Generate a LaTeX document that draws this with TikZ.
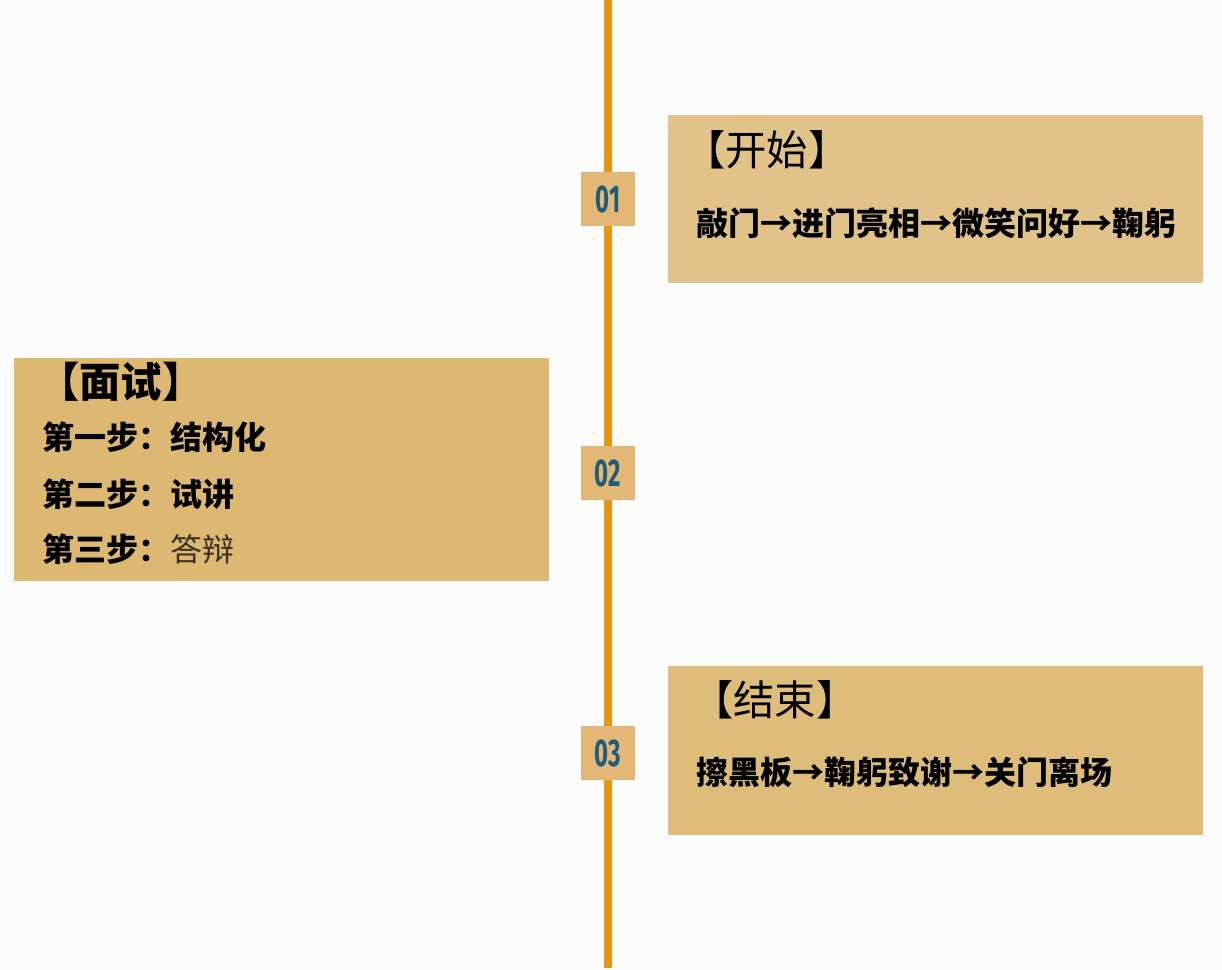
\documentclass[tikz,border=0pt]{standalone}
\usepackage{fontspec}
\newfontfamily\cjk{Noto Sans CJK SC}
\newfontfamily\numfont{Fira Sans}
\definecolor{bgc}{HTML}{FDFCFD}
\definecolor{linec}{HTML}{E8960F}
\definecolor{tagc}{HTML}{E3B877}
\definecolor{numc}{HTML}{1F5C7A}
\definecolor{boxa}{HTML}{E1C38A}
\definecolor{boxb}{HTML}{DCB873}
\definecolor{boxc}{HTML}{DEBC7A}
\definecolor{softc}{HTML}{3A3222}
\tikzset{
  tagbox/.style={fill=tagc, minimum width=40.5pt, minimum height=40.5pt, inner sep=0, font=\numfont\bfseries\fontsize{29}{29}\selectfont, text=numc},
  title/.style={anchor=west, inner sep=0, font=\cjk\fontsize{31}{34}\selectfont},
  body/.style={anchor=west, inner sep=0, font=\cjk\bfseries\fontsize{24}{27}\selectfont},
}
\begin{document}
\begin{tikzpicture}[x=0.75pt, y=-0.75pt]
\useasboundingbox (0,0) rectangle (1222,970);
\fill[bgc] (0,0) rectangle (1222,970);
% timeline
\coordinate (top) at (608,0);
\coordinate (bot) at (608,968);
\draw[linec, line width=5.4pt] (top) -- (bot);
% panels
\fill[boxa] (668,115) rectangle (1203,283);
\fill[boxb] (14,358) rectangle (549,581);
\fill[boxc] (668,666) rectangle (1203,835);
% tags
\node[tagbox] (t1) at (608,199) {\scalebox{0.62}[1]{01}};
\node[tagbox] (t2) at (608,473) {\scalebox{0.62}[1]{02}};
\node[tagbox] (t3) at (608,753) {\scalebox{0.62}[1]{03}};
% panel 1
\node[title] (h1) at (684,150) {【开始】};
\node[body] (l1) at (696,223) {敲门→进门亮相→微笑问好→鞠躬};
% panel 2
\node[title, font=\cjk\bfseries\fontsize{31}{34}\selectfont] (h2) at (38,382) {【面试】};
\node[body] (s1) at (42,437) {第一步：结构化};
\node[body] (s2) at (42,494) {第二步：试讲};
\node[body] (s3) at (42,549) {第三步：\mdseries\color{softc}答辩};
% panel 3
\node[title] (h3) at (692,700) {【结束】};
\node[body] (l3) at (696,772) {擦黑板→鞠躬致谢→关门离场};
\end{tikzpicture}
\end{document}
